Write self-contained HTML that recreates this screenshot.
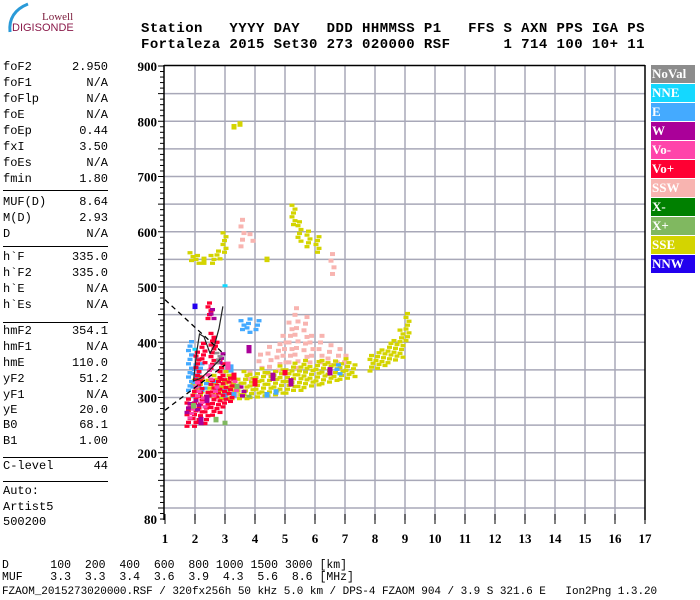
<!DOCTYPE html>
<html><head><meta charset="utf-8"><style>
body{margin:0;background:#fff;width:700px;height:600px;overflow:hidden;position:relative;font-family:"Liberation Mono",monospace}
.t{position:absolute;white-space:pre;color:#000}
.lp{position:absolute;left:3px;width:105px;font-size:12px;font-family:"Liberation Mono",monospace;height:15px;line-height:15px}
.lp span{position:absolute;right:0}
.sep{position:absolute;left:3px;width:105px;height:0;border-top:1.5px solid #000}
.leg{position:absolute;left:651px;width:44px;height:18px;color:#fff;font:bold 13px "Liberation Serif",serif;line-height:18px;padding-left:1px;box-sizing:border-box}
</style></head><body>
<svg style="position:absolute;left:0;top:0" width="80" height="36">
<path d="M10,32 Q8,12 28,4" stroke="#2a9ad8" stroke-width="3" fill="none"/>
<text x="42" y="20" font-family="Liberation Serif" font-size="11" fill="#7a1a3a">Lowell</text>
<text x="12" y="31" font-family="Liberation Sans" font-size="11" fill="#8a1a4a">DIGISONDE</text>
</svg>
<div class="t" style="left:141px;top:21px;font:bold 14px 'Liberation Mono',monospace;letter-spacing:0.44px">Station   YYYY DAY   DDD HHMMSS P1   FFS S AXN PPS IGA PS</div>
<div class="t" style="left:141px;top:37px;font:bold 14px 'Liberation Mono',monospace;letter-spacing:0.44px">Fortaleza 2015 Set30 273 020000 RSF      1 714 100 10+ 11</div>
<div id="left"></div>
<div class="t" style="left:2px;top:559px;font-size:11.5px">D      100  200  400  600  800 1000 1500 3000 [km]</div>
<div class="t" style="left:2px;top:571px;font-size:11.5px">MUF    3.3  3.3  3.4  3.6  3.9  4.3  5.6  8.6 [MHz]</div>
<div class="t" style="left:2px;top:586px;font-size:11px;letter-spacing:-0.05px">FZAOM_2015273020000.RSF / 320fx256h 50 kHz 5.0 km / DPS-4 FZAOM 904 / 3.9 S 321.6 E   Ion2Png 1.3.20</div>
<div id="legend"></div>
<svg id="chart" style="position:absolute;left:0;top:0" width="700" height="600"></svg>
<script>
const leftLabels=["foF2","foF1","foFlp","foE","foEp","fxI","foEs","fmin","MUF(D)","M(D)","D","h`F","h`F2","h`E","h`Es","hmF2","hmF1","hmE","yF2","yF1","yE","B0","B1","C-level","Auto:","Artist5","500200"];
const leftValues=["2.950","N/A","N/A","N/A","0.44","3.50","N/A","1.80","8.64","2.93","N/A","335.0","335.0","N/A","N/A","354.1","N/A","110.0","51.2","N/A","20.0","68.1","1.00","44","","",""];
const leftY=[60,76,92,108,124,140,156,172,195,211,227,250,266,282,298,324,340,356,372,388,403,418,434,459,484,500,515];
const sepY=[190,246,322,457,481];
const L=document.getElementById('left');
leftLabels.forEach((s,i)=>{const d=document.createElement('div');d.className='lp';d.style.top=leftY[i]+'px';d.innerHTML=s+'<span>'+leftValues[i]+'</span>';


L.appendChild(d);});
sepY.forEach(y=>{const d=document.createElement('div');d.className='sep';d.style.top=y+'px';


L.appendChild(d);});
const legendNames=["NoVal","NNE","E","W","Vo-","Vo+","SSW","X-","X+","SSE","NNW"];
const legendColors=["#8c8c8c","#14d8ff","#44aaff","#aa0099","#ff44aa","#ff0033","#f8b4b0","#008000","#80b860","#d4d400","#2200ee"];
const LG=document.getElementById('legend');
legendNames.forEach((n,i)=>{const d=document.createElement('div');d.className='leg';d.style.top=(65+i*19)+'px';d.style.background=legendColors[i];d.textContent=n;


LG.appendChild(d);});

// data: traces as columns [freq MHz, low km, high km]
const sseF=[2.0,2.2,2.5,2.7,2.9,3.1,3.3,3.5,3.7,3.9,4.1,4.3,4.5,4.7,4.9,5.1,5.3,5.5,5.7,5.9,6.1,6.3,6.5,6.7,6.9,7.1,7.3,7.9,8.1,8.3,8.5,8.7,8.9,9.1,1.9,2.1,2.3,2.6,2.8,4.4,5.3,5.5,5.8,6.1,3.3,3.5,3.0];
const sseLo=[300,300,300,295,295,295,295,295,295,297,298,300,300,302,305,305,310,310,315,318,320,322,325,328,330,332,335,345,350,355,360,365,370,400,545,540,540,540,548,545,610,580,570,560,785,790,560];
const sseHi=[330,340,330,340,335,345,340,335,345,340,345,350,345,350,355,350,360,355,365,360,365,370,365,370,365,368,360,375,385,390,400,405,420,450,565,560,555,560,565,555,650,620,600,590,795,800,600];
const vopF=[1.8,2.0,2.2,2.4,2.6,2.8,3.0,3.2,2.3,2.6,2.9,3.3,2.5,4.0,5.0,2.1,2.7];
const vopLo=[245,245,250,250,265,270,280,290,360,350,330,330,440,320,340,330,390];
const vopHi=[300,320,340,310,330,340,330,335,400,420,370,345,470,335,350,380,410];
const vomF=[1.9,2.1,2.5,2.7,3.4,2.3,3.1];
const vomLo=[260,300,330,300,310,280,350];
const vomHi=[290,330,360,320,330,300,365];
const wF=[1.8,2.1,2.4,2.9,3.6,4.6,5.2,6.5,2.6,3.8,2.2];
const wLo=[270,275,290,360,300,330,320,340,440,380,250];
const wHi=[290,295,305,380,320,345,335,355,460,395,265];
const eF=[1.85,2.0,2.2,2.4,3.6,3.8,4.1,3.0,3.3,4.4,4.7,6.8,3.2,2.7];
const eLo=[310,300,310,290,420,415,420,300,300,300,305,340,345,310];
const eHi=[400,360,370,330,440,440,440,315,310,310,315,360,360,330];
const sswF=[2.9,3.8,4.2,4.5,4.8,5.0,5.2,5.4,5.7,5.9,6.2,6.5,6.8,7.0,3.9,3.6,6.6,4.0,3.4];
const sswLo=[330,330,350,340,345,360,360,350,370,360,360,355,360,360,580,570,520,320,300];
const sswHi=[350,350,380,390,400,420,440,470,450,420,410,400,390,380,600,630,560,335,315];
const xpF=[1.95,2.7,3.4,3.8,3.0];
const xpLo=[280,255,315,300,250];
const xpHi=[290,265,325,305,258];
const novF=[2.8];const novLo=[360];const novHi=[380];
const nnwF=[2.0];const nnwLo=[460];const nnwHi=[470];
const nneF=[2.0,3.0];const nneLo=[385,500];const nneHi=[390,505];
const dash1F=[1.0,3.0];const dash1H=[477,377];
const dash2F=[1.0,3.0];const dash2H=[277,359];
const profF=[2.93,2.8,2.65,2.5,2.3,2.15,2.05,1.95,2.2,2.5,2.85];
const profH=[465,425,395,380,410,415,380,330,335,350,370];
const yTicks=[900,800,700,600,500,400,300,200,80];
const xTicks=[1,2,3,4,5,6,7,8,9,10,11,12,13,14,15,16,17];

const X=f=>165+(f-1)*30;
const Y=h=>66+(900-h)*0.5525;
const S=document.getElementById('chart');const NS='http://www.w3.org/2000/svg';
function mk(t,a,name){const e=document.createElementNS(NS,t);for(const k in a)e.setAttribute(k,a[k]);


S.appendChild(e);return e;}
for(let h=100;h<=850;h+=50){mk('line',{x1:164,x2:645,y1:Y(h),y2:Y(h),stroke:'#a8a8b8','stroke-width':1.5},'h-gridline');}
for(let f=2;f<=16;f++){mk('line',{x1:X(f),x2:X(f),y1:66,y2:520,stroke:'#a8a8b8','stroke-width':1.5},'v-gridline');}
mk('line',{x1:164,x2:645,y1:65.5,y2:65.5,stroke:'#000','stroke-width':1.5},'frame-top');
mk('line',{x1:645,x2:645,y1:65,y2:520,stroke:'#000','stroke-width':1.5},'frame-right');
mk('line',{x1:164,x2:164,y1:65,y2:520,stroke:'#000','stroke-width':1.5},'y-axis');
for(let h=80;h<=900;h+=10){const big=h%50==0;mk('line',{x1:big?158:160,x2:164,y1:Y(h),y2:Y(h),stroke:'#000','stroke-width':1},'y-tick');}
yTicks.forEach(v=>{const t=mk('text',{x:157,y:Y(v)+5,'text-anchor':'end','font-family':'Liberation Serif','font-weight':'bold','font-size':13},'y-tick-label');t.textContent=v;});
xTicks.forEach(v=>{mk('line',{x1:X(v),x2:X(v),y1:514,y2:524,stroke:'#000'},'x-tick');const t=mk('text',{x:X(v),y:543,'text-anchor':'middle','font-family':'Liberation Serif','font-weight':'bold','font-size':13},'x-tick-label');t.textContent=v;});
function series(F,Lo,Hi,col,name,step,fillR){F.forEach((f,i)=>{
  const span=Hi[i]-Lo[i];
  if(span<=15){mk('rect',{x:X(f)-2.5,y:Y(Hi[i]),width:5,height:Math.max(3,Y(Lo[i])-Y(Hi[i])),fill:col},name);return;}
  let k=0;
  for(let h=Lo[i];h<Hi[i];h+=step){
    const off=((k+i)%3)-1; k++;
    mk('rect',{x:X(f)-3+off*1.5,y:Y(h+step*fillR),width:5,height:Math.max(2.5,step*fillR*0.5525),fill:col},name);
  }});}
series(sswF,sswLo,sswHi,'#f8b4b0','ssw-trace',12,0.6);
series(sseF,sseLo,sseHi,'#d4d400','sse-trace',7,0.85);
series(eF,eLo,eHi,'#44aaff','e-trace',8,0.75);
series(vopF,vopLo,vopHi,'#ff0033','vo-plus-trace',7,0.85);
series(vomF,vomLo,vomHi,'#ff44aa','vo-minus-trace',8,0.75);
series(wF,wLo,wHi,'#aa0099','w-trace',8,0.75);
series(xpF,xpLo,xpHi,'#80b860','x-plus-trace',6,0.8);
series(novF,novLo,novHi,'#8c8c8c','noval-trace',6,0.8);
series(nnwF,nnwLo,nnwHi,'#2200ee','nnw-trace',6,0.8);
series(nneF,nneLo,nneHi,'#14d8ff','nne-trace',6,0.8);
const pl=(F,H)=>F.map((f,i)=>X(f)+','+Y(H[i])).join(' ');
mk('polyline',{points:pl(dash1F,dash1H),fill:'none',stroke:'#000','stroke-width':1.3,'stroke-dasharray':'5,4'},'o-trace-fit');
mk('polyline',{points:pl(dash2F,dash2H),fill:'none',stroke:'#000','stroke-width':1.3,'stroke-dasharray':'5,4'},'x-trace-fit');
mk('polyline',{points:pl(profF,profH),fill:'none',stroke:'#222','stroke-width':1.2},'profile-curve');
</script>
</body></html>
